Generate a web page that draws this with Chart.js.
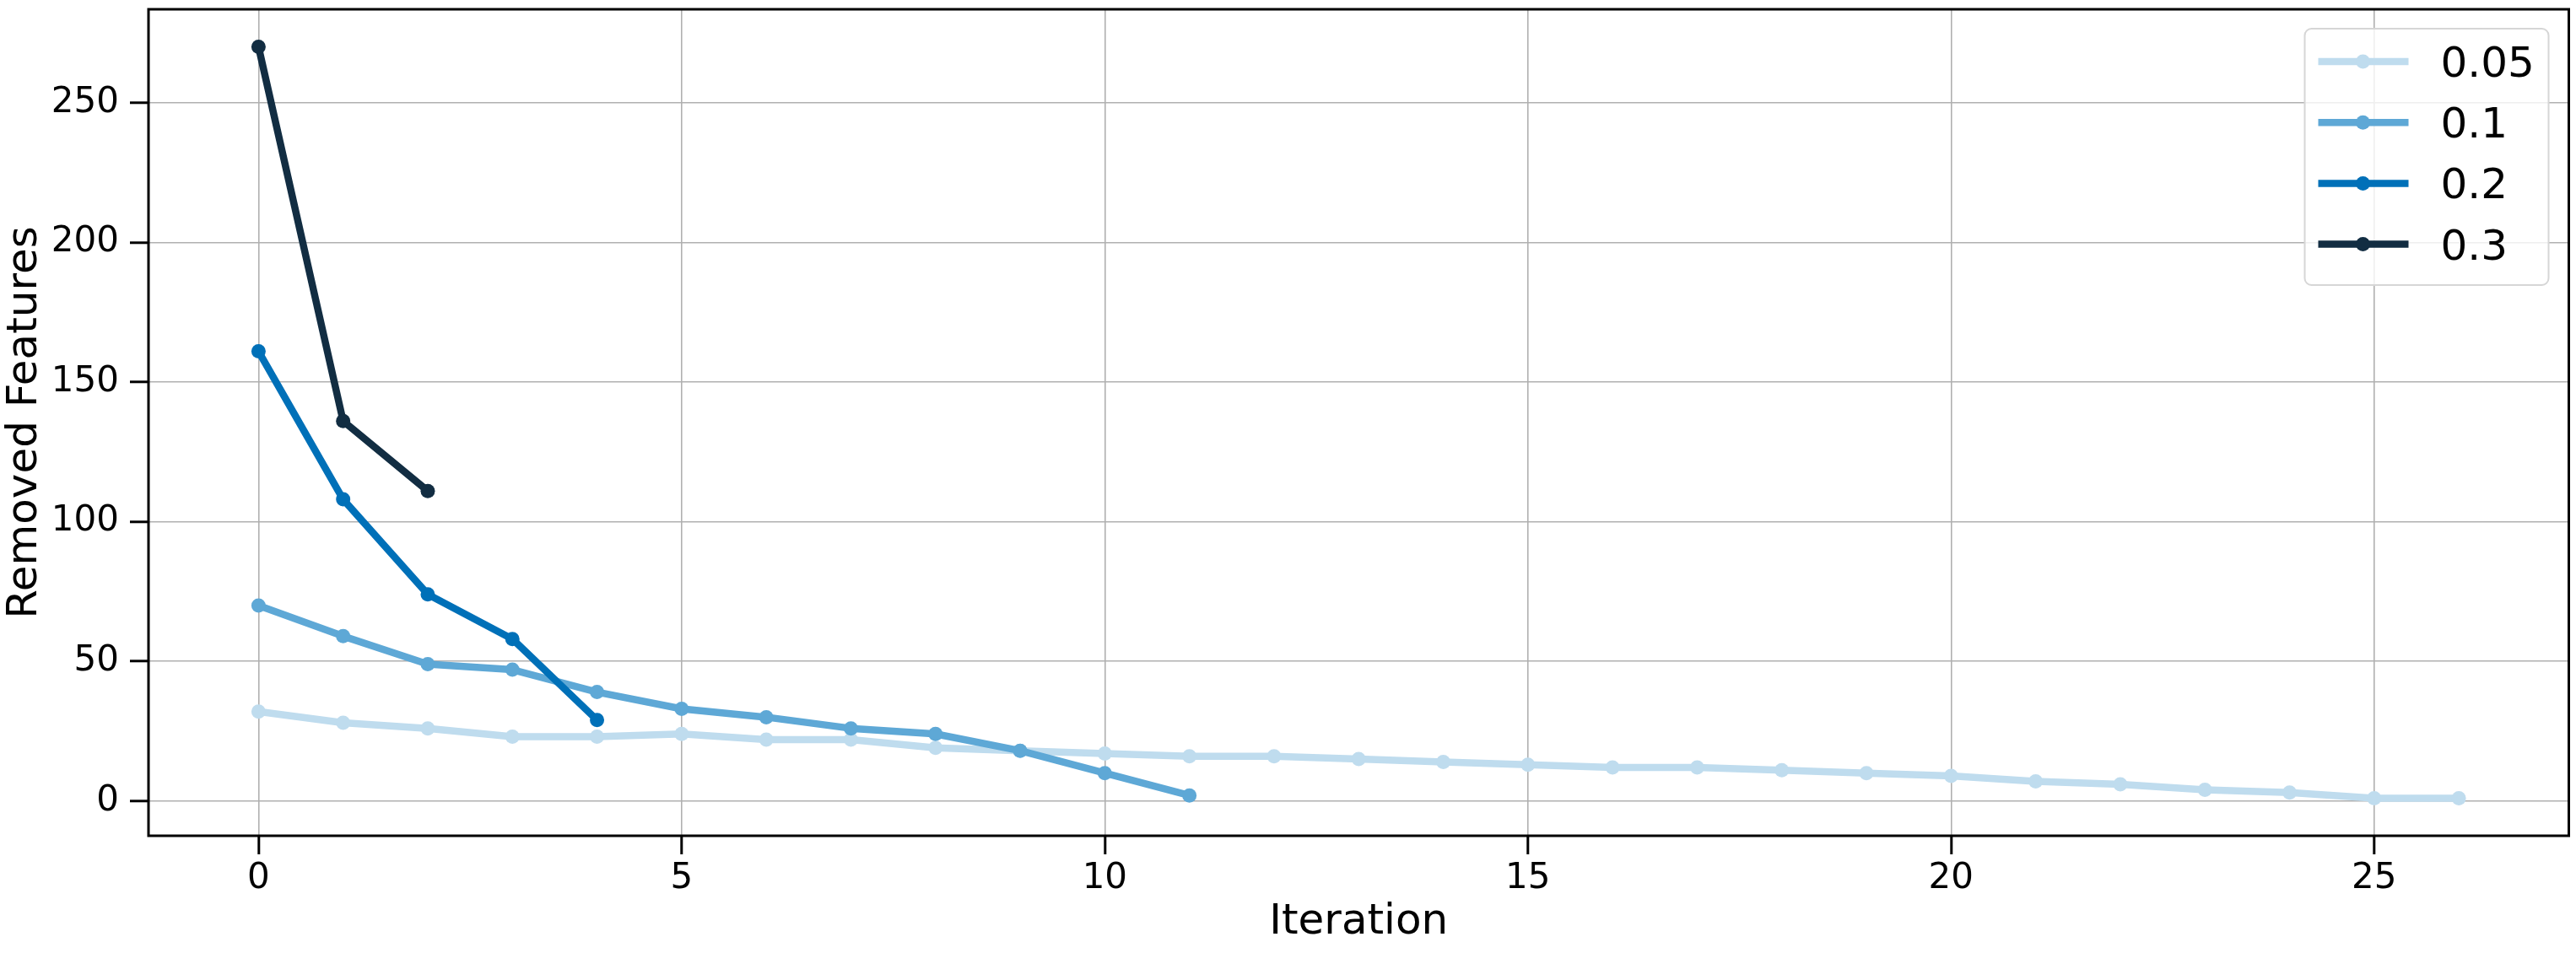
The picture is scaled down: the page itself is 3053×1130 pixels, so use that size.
<!DOCTYPE html>
<html>
<head>
<meta charset="utf-8">
<script src="https://cdn.jsdelivr.net/npm/chart.js@4.4.0/dist/chart.umd.min.js"></script>
<style>
  body { margin: 0; background: #fff; }
  #wrap { width: 3053px; height: 1130px; }
</style>
</head>
<body>
<div id="wrap"><canvas id="myChart" width="3053" height="1130"></canvas></div>
<script>
var thresholds = ['0.05', '0.1', '0.2', '0.3']
var colors = ['#bfdcee', '#5ea8d6', '#0070b8', '#122d42']

var removed005 = [32, 28, 26, 23, 23, 24, 22, 22, 19, 18, 17, 16, 16, 15, 14, 13, 12, 12, 11, 10, 9, 7, 6, 4, 3, 1, 1]
var removed01 = [70, 59, 49, 47, 39, 33, 30, 26, 24, 18, 10, 2]
var removed02 = [161, 108, 74, 58, 29]
var removed03 = [270, 136, 111]

var xTicks = [0, 5, 10, 15, 20, 25]
var yTicks = [0, 50, 100, 150, 200, 250]

var series = [removed005, removed01, removed02, removed03]
var font = 'DejaVu Sans'

function toPoints (arr) {
  return arr.map((v, i) => ({ x: i, y: v }))
}

// frame round the plot area, drawn over the lines like matplotlib spines
const frame = {
  id: 'frame',
  afterDatasetsDraw (chart) {
    const { ctx, chartArea: a } = chart
    ctx.save()
    ctx.strokeStyle = '#000'
    ctx.lineWidth = 3
    ctx.strokeRect(a.left, a.top, a.right - a.left, a.bottom - a.top)
    ctx.restore()
  }
}

// legend box in the upper right corner
const legendBox = {
  id: 'legendBox',
  afterDraw (chart) {
    const { ctx, chartArea: a } = chart
    const w = 289, h = 304
    const x = a.right - 24 - w
    const y = a.top + 23
    ctx.save()
    ctx.beginPath()
    ctx.roundRect(x, y, w, h, 8)
    ctx.fillStyle = 'rgba(255,255,255,0.8)'
    ctx.fill()
    ctx.strokeStyle = '#d6d6d6'
    ctx.lineWidth = 2
    ctx.stroke()

    thresholds.forEach((t, i) => {
      const cy = y + 39 + i * 72.2
      ctx.strokeStyle = colors[i]
      ctx.lineWidth = 8.5
      ctx.beginPath()
      ctx.moveTo(x + 16, cy)
      ctx.lineTo(x + 123, cy)
      ctx.stroke()
      ctx.fillStyle = colors[i]
      ctx.beginPath()
      ctx.arc(x + 69, cy, 8.5, 0, Math.PI * 2)
      ctx.fill()
      ctx.fillStyle = '#000'
      ctx.font = '50px "' + font + '"'
      ctx.textBaseline = 'alphabetic'
      ctx.textAlign = 'left'
      ctx.fillText(t, x + 161, cy + 18)
    })
    ctx.restore()
  }
}

const ctx = document.getElementById('myChart')

new Chart(ctx, {
  type: 'line',
  data: {
    datasets: series.map((s, i) => ({
      label: thresholds[i],
      data: toPoints(s),
      borderColor: colors[i],
      backgroundColor: colors[i],
      borderWidth: 8.5,
      borderJoinStyle: 'round',
      pointRadius: 8.5,
      pointBorderWidth: 0,
      pointBackgroundColor: colors[i],
      tension: 0,
      order: series.length - i
    }))
  },
  options: {
    responsive: false,
    animation: false,
    devicePixelRatio: 1,
    layout: { padding: { top: 11, right: 3, left: 0, bottom: 0 } },
    plugins: {
      legend: { display: false },
      tooltip: { enabled: false }
    },
    scales: {
      x: {
        type: 'linear',
        min: -1.3,
        max: 27.3,
        afterBuildTicks: (scale) => { scale.ticks = xTicks.map(v => ({ value: v })) },
        afterFit: (scale) => {
          scale.height = 139
          scale.paddingLeft = 0
          scale.paddingRight = 0
        },
        grid: { color: '#b0b0b0', lineWidth: 1.6, tickColor: '#000', tickWidth: 3, tickLength: 22 },
        border: { display: false },
        ticks: { color: '#000', padding: 4, maxRotation: 0, font: { family: font, size: 42 } },
        title: { display: true, text: 'Iteration', color: '#000', padding: { top: 0, bottom: 6 }, font: { family: font, size: 50 } }
      },
      y: {
        type: 'linear',
        min: -12.45,
        max: 283.45,
        afterBuildTicks: (scale) => { scale.ticks = yTicks.map(v => ({ value: v })) },
        afterFit: (scale) => {
          scale.width = 176
          scale.paddingTop = 0
          scale.paddingBottom = 0
        },
        grid: { color: '#b0b0b0', lineWidth: 1.6, tickColor: '#000', tickWidth: 3, tickLength: 22 },
        border: { display: false },
        ticks: { color: '#000', padding: 13, font: { family: font, size: 42 } },
        title: { display: true, text: 'Removed Features', color: '#000', padding: { top: 0, bottom: 0 }, font: { family: font, size: 50 } }
      }
    }
  },
  plugins: [frame, legendBox]
})
</script>
</body>
</html>
